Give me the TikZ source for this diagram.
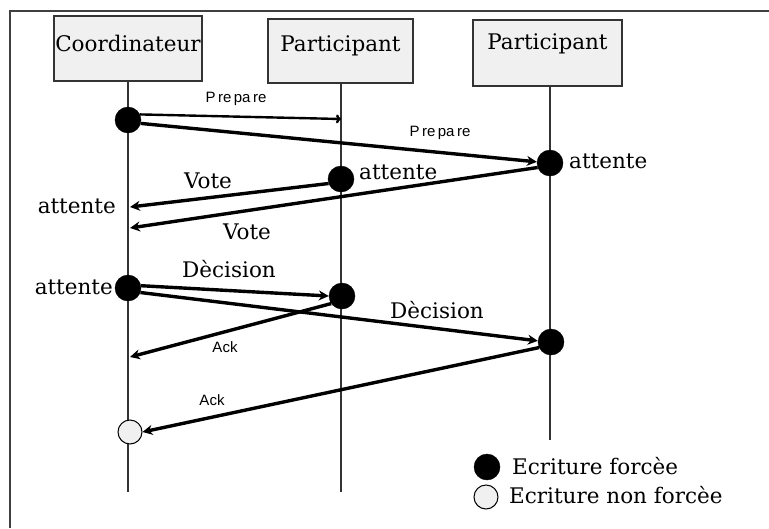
\documentclass[tikz,border=0pt]{standalone}
\usepackage{fontspec}
\setmainfont{DejaVu Serif}
\newfontfamily\lblsans{Liberation Sans}
\usetikzlibrary{arrows.meta}
\begin{document}
\begin{tikzpicture}[x=1pt,y=-1pt,
  actor/.style={draw=black!80, line width=1.8pt, fill=black!6, inner sep=0pt},
  lifeline/.style={draw=black!80, line width=1.8pt},
  forced/.style={circle, fill=black, draw=black, minimum size=26pt, inner sep=0pt},
  unforced/.style={circle, fill=black!6, draw=black, line width=1pt, minimum size=24pt, inner sep=0pt},
  msg/.style={line width=3.4pt, -{Stealth[length=10pt,width=10pt]}},
  msgthin/.style={line width=2.4pt, -{To[length=5pt,width=9pt]}},
  serif/.style={font=\fontsize{21.5}{24}\selectfont, inner sep=0pt},
  small/.style={font=\lblsans\fontsize{15}{17}\selectfont, inner sep=0pt},
]
\useasboundingbox (0,0) rectangle (769,528);
\fill[white] (0,0) rectangle (769,528);

% frame
\draw[black!75, line width=1.8pt] (10,528) -- (10,11) -- (769,11);

% actor boxes
\node[actor, minimum width=148pt, minimum height=65pt] (co) at (128,48.5) {};
\node[actor, minimum width=145pt, minimum height=64pt] (pa) at (340.5,51) {};
\node[actor, minimum width=149pt, minimum height=66pt] (pb) at (547.5,53) {};
\node[serif] (coT) at (128,43) {Coordinateur};
\node[serif] (paT) at (340.5,46) {Participant};
\node[serif] (pbT) at (547.5,44) {Participant};

% lifelines
\coordinate (coEnd) at (128,492);
\coordinate (paEnd) at (341,492);
\coordinate (pbEnd) at (550,440);
\draw[lifeline] (co.south) -- (coEnd);
\draw[lifeline] (pa.south -| paEnd) -- (paEnd);
\draw[lifeline] (pb.south -| pbEnd) -- (pbEnd);

% log writes
\node[forced] (c1) at (128,120) {};
\node[forced] (b1) at (550,163) {};
\node[forced] (a1) at (341,179) {};
\node[forced] (c2) at (128,288) {};
\node[forced] (a2) at (342,296) {};
\node[forced] (b2) at (551,342) {};
\node[unforced] (c3) at (130,432) {};

% arrival points on the lifelines
\coordinate (aPrep) at (341,119);
\coordinate (cVote1) at (130,207);
\coordinate (cVote2) at (130,228);
\coordinate (cAck1) at (130,357);

% messages
\draw[msgthin] (c1.25) -- (aPrep);
\draw[msg] (c1.-15) -- (b1.175);
\draw[msg] (a1.200) -- (cVote1);
\draw[msg] (b1.200) -- (cVote2);
\draw[msg] (c2.10) -- (a2.180);
\draw[msg] (c2.-20) -- (b2.175);
\draw[msg] (a2.215) -- (cAck1);
\draw[msg] (b2.205) -- (c3.east);

% labels
\node[small] (lPrep1) at (236,99) {P\,re\,pa\,re};
\node[small] (lPrep2) at (440,133) {P\,re\,pa\,re};
\node[serif, anchor=west] (lAtt1) at (569,161) {attente};
\node[serif, anchor=west] (lAtt2) at (359,172) {attente};
\node[serif] (lVote1) at (208,181) {Vote};
\node[serif] (lVote2) at (247,232) {Vote};
\node[serif, anchor=east] (lAtt3) at (116,206) {attente};
\node[serif, anchor=east] (lAtt4) at (113,287) {attente};
\node[serif] (lDec1) at (229,269) {Dècision};
\node[serif] (lDec2) at (437,310) {Dècision};
\node[small] (lAck1) at (225,347) {Ack};
\node[small] (lAck2) at (212,400) {Ack};

% legend
\node[forced] (kF) at (487,467) {};
\node[unforced] (kU) at (486,497) {};
\node[serif, anchor=west] (kFT) at (512,466) {Ecriture forcèe};
\node[serif, anchor=west] (kUT) at (509,495) {Ecriture non forcèe};
\end{tikzpicture}
\end{document}
